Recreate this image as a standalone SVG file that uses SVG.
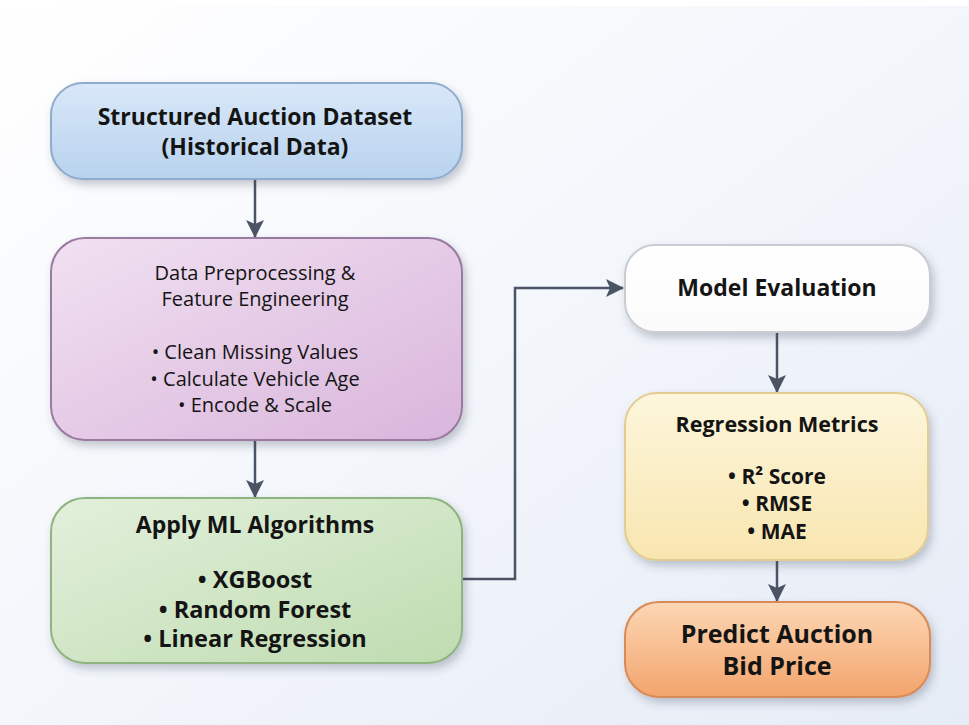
<svg xmlns="http://www.w3.org/2000/svg" width="969" height="725" viewBox="0 0 969 725">
<defs>
<linearGradient id="bg" x1="0" y1="0" x2="1" y2="1">
<stop offset="0" stop-color="#ffffff"/>
<stop offset="0.5" stop-color="#f3f6fb"/>
<stop offset="1" stop-color="#e6ecf6"/>
</linearGradient>
<linearGradient id="gBlue" x1="0" y1="0" x2="0" y2="1">
<stop offset="0" stop-color="#d9e8f8"/>
<stop offset="1" stop-color="#b8d2ee"/>
</linearGradient>
<linearGradient id="gPurple" x1="0" y1="0" x2="1" y2="1">
<stop offset="0" stop-color="#f1e1f1"/>
<stop offset="1" stop-color="#d9b5dc"/>
</linearGradient>
<linearGradient id="gGreen" x1="0" y1="0" x2="1" y2="1">
<stop offset="0" stop-color="#e3f0dc"/>
<stop offset="1" stop-color="#bedcb0"/>
</linearGradient>
<linearGradient id="gWhite" x1="0" y1="0" x2="0" y2="1">
<stop offset="0" stop-color="#ffffff"/>
<stop offset="1" stop-color="#fbfbfc"/>
</linearGradient>
<linearGradient id="gYellow" x1="0" y1="0" x2="0" y2="1">
<stop offset="0" stop-color="#fdf6dc"/>
<stop offset="1" stop-color="#f8e6b0"/>
</linearGradient>
<linearGradient id="gOrange" x1="0" y1="0" x2="0" y2="1">
<stop offset="0" stop-color="#fcd7b5"/>
<stop offset="1" stop-color="#f3a46c"/>
</linearGradient>
<filter id="sh" x="-10%" y="-10%" width="125%" height="135%">
<feDropShadow dx="3" dy="5" stdDeviation="4" flood-color="#3a4558" flood-opacity="0.28"/>
</filter>
<marker id="ah" viewBox="0 0 18 18" refX="17" refY="9" markerWidth="18" markerHeight="18" markerUnits="userSpaceOnUse" orient="auto">
<path d="M0,0 L18,9 L0,18 L4,9 Z" fill="#4b5465"/>
</marker>
</defs>
<style>
.t{font-family:"Open Sans","Noto Sans","Liberation Sans",sans-serif;fill:#141414;text-anchor:middle}
.b{font-weight:700}
.r{font-weight:400}
.c{fill:none;stroke:#4b5465;stroke-width:2.5}
.box{stroke-width:2}
</style>
<rect width="969" height="725" fill="url(#bg)"/>
<rect width="969" height="6" fill="#ffffff"/>

<g id="connectors">
<path class="c" d="M255,180 V237" marker-end="url(#ah)"/>
<path class="c" d="M255,440 V497" marker-end="url(#ah)"/>
<path class="c" d="M462,579 H515 V288 H623" marker-end="url(#ah)"/>
<path class="c" d="M777,333 V392" marker-end="url(#ah)"/>
<path class="c" d="M777,560 V601" marker-end="url(#ah)"/>
</g>

<g id="dataset">
<rect class="box" x="51" y="83" width="411" height="96" rx="32" fill="url(#gBlue)" stroke="#8eaccd" filter="url(#sh)"/>
<text class="t b" x="255" y="125" font-size="23">Structured Auction Dataset</text>
<text class="t b" x="255" y="155" font-size="23">(Historical Data)</text>
</g>

<g id="preprocessing">
<rect class="box" x="51" y="238" width="411" height="202" rx="34" fill="url(#gPurple)" stroke="#9a7aa0" filter="url(#sh)"/>
<text class="t r" x="255" y="280" font-size="20">Data Preprocessing &amp;</text>
<text class="t r" x="255" y="306" font-size="20">Feature Engineering</text>
<text class="t r" x="255" y="359" font-size="20">• Clean Missing Values</text>
<text class="t r" x="255" y="386" font-size="20">• Calculate Vehicle Age</text>
<text class="t r" x="255" y="412" font-size="20">• Encode &amp; Scale</text>
</g>

<g id="algorithms">
<rect class="box" x="51" y="498" width="411" height="165" rx="34" fill="url(#gGreen)" stroke="#8fb47f" filter="url(#sh)"/>
<text class="t b" x="255" y="533" font-size="23">Apply ML Algorithms</text>
<text class="t b" x="255" y="588" font-size="23.5">• XGBoost</text>
<text class="t b" x="255" y="618" font-size="23.5">• Random Forest</text>
<text class="t b" x="255" y="647" font-size="23.5">• Linear Regression</text>
</g>

<g id="evaluation">
<rect class="box" x="625" y="245" width="305" height="87" rx="30" fill="url(#gWhite)" stroke="#c9ccd3" filter="url(#sh)"/>
<text class="t b" x="777" y="296" font-size="23">Model Evaluation</text>
</g>

<g id="metrics">
<rect class="box" x="625" y="393" width="303" height="167" rx="32" fill="url(#gYellow)" stroke="#e2cc92" filter="url(#sh)"/>
<text class="t b" x="777" y="432" font-size="21.5">Regression Metrics</text>
<text class="t b" x="777" y="484" font-size="21">• R² Score</text>
<text class="t b" x="777" y="511" font-size="21">• RMSE</text>
<text class="t b" x="777" y="539" font-size="21">• MAE</text>
</g>

<g id="predict">
<rect class="box" x="625" y="602" width="305" height="95" rx="34" fill="url(#gOrange)" stroke="#d98a55" filter="url(#sh)"/>
<text class="t b" x="777" y="643" font-size="25">Predict Auction</text>
<text class="t b" x="777" y="675" font-size="25">Bid Price</text>
</g>
</svg>
